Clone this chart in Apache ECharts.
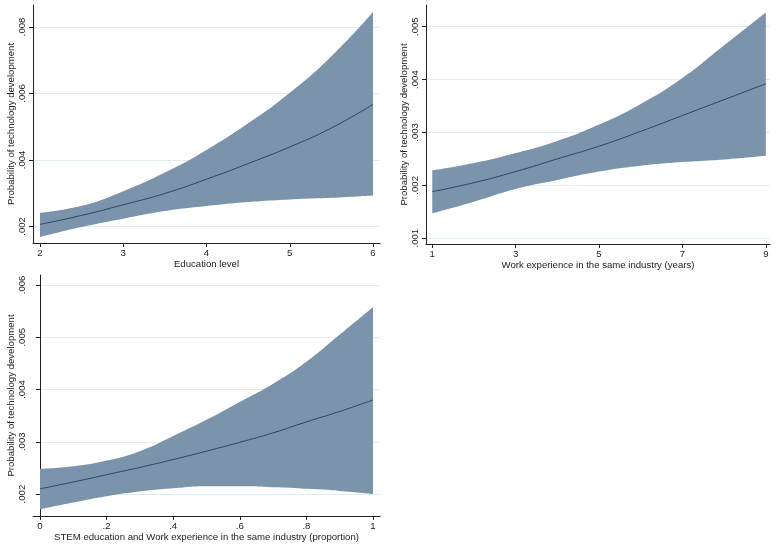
<!DOCTYPE html>
<html>
<head>
<meta charset="utf-8">
<script src="https://cdn.jsdelivr.net/npm/echarts@6/dist/echarts.min.js"></script>
<style>
  html, body { margin: 0; padding: 0; background: #fff; }
  #chart { width: 778px; height: 548px; }
</style>
</head>
<body>
<div id="chart"></div>
<script>
// panel 1: education level
const eduX = [2, 2.5, 3, 3.5, 4, 4.5, 5, 5.5, 6]
const eduMean = [0.00206, 0.00233, 0.00265, 0.00299, 0.00342, 0.00389, 0.00439, 0.00496, 0.00567]
const eduLow = [0.00168, 0.00198, 0.00223, 0.00246, 0.00261, 0.00273, 0.00281, 0.00286, 0.00293]
const eduHigh = [0.00241, 0.00262, 0.00306, 0.00362, 0.00430, 0.00510, 0.00602, 0.00712, 0.00845]
const eduXTicks = [2, 3, 4, 5, 6]
const eduYTicks = [0.002, 0.004, 0.006, 0.008]

// panel 2: work experience
const workX = [1, 2, 3, 4, 5, 6, 7, 8, 9]
const workMean = [0.00188, 0.00205, 0.00226, 0.00250, 0.00274, 0.00302, 0.00332, 0.00362, 0.00392]
const workLow = [0.00147, 0.00169, 0.00193, 0.00210, 0.00226, 0.00237, 0.00244, 0.00249, 0.00256]
const workHigh = [0.00228, 0.00242, 0.00261, 0.00284, 0.00315, 0.00354, 0.00403, 0.00465, 0.00527]
const workXTicks = [1, 3, 5, 7, 9]
const workYTicks = [0.001, 0.002, 0.003, 0.004, 0.005]

// panel 3: STEM + work experience proportion
const stemX = [0, 0.1, 0.2, 0.3, 0.4, 0.5, 0.6, 0.7, 0.8, 0.9, 1]
const stemMean = [0.00210, 0.00223, 0.00237, 0.00251, 0.00266, 0.00282, 0.00299, 0.00317, 0.00338, 0.00358, 0.00380]
const stemLow = [0.00171, 0.00184, 0.00196, 0.00205, 0.00211, 0.00215, 0.00215, 0.00213, 0.00210, 0.00206, 0.00200]
const stemHigh = [0.00248, 0.00253, 0.00264, 0.00282, 0.00311, 0.00342, 0.00376, 0.00411, 0.00453, 0.00505, 0.00558]
const stemXTicks = [0, 0.2, 0.4, 0.6, 0.8, 1]
const stemYTicks = [0.002, 0.003, 0.004, 0.005, 0.006]

const yName = 'Probability of technology development'
const bandColor = '#7b94ab'
const lineColor = '#26476a'
const gridColor = '#e2ebee'
const font = 'Liberation Sans, Arial, sans-serif'

const panels = [
  { x: eduX, mean: eduMean, low: eduLow, high: eduHigh, xTicks: eduXTicks, yTicks: eduYTicks,
    xName: 'Education level', xMin: 1.916, xMax: 6.084, yMin: 0.0015, yMax: 0.00866,
    grid: { left: 33, top: 5, width: 347, height: 238 } },
  { x: workX, mean: workMean, low: workLow, high: workHigh, xTicks: workXTicks, yTicks: workYTicks,
    xName: 'Work experience in the same industry (years)', xMin: 0.85, xMax: 9.1, yMin: 0.00089, yMax: 0.00541,
    grid: { left: 426, top: 5, width: 344, height: 239 } },
  { x: stemX, mean: stemMean, low: stemLow, high: stemHigh, xTicks: stemXTicks, yTicks: stemYTicks,
    xName: 'STEM education and Work experience in the same industry (proportion)', xMin: -0.021, xMax: 1.021, yMin: 0.00158, yMax: 0.00619,
    grid: { left: 33, top: 275, width: 347, height: 241 } }
]

const axisLine = { show: true, lineStyle: { color: '#222', width: 1 } }
const axisTick = { show: true, length: 4, lineStyle: { color: '#222' } }

const grids = [], xAxes = [], yAxes = [], series = []

panels.forEach((p, i) => {
  grids.push(Object.assign({ outerBoundsMode: 'none', containLabel: false }, p.grid))
  xAxes.push({
    type: 'value', gridIndex: i, min: p.xMin, max: p.xMax,
    name: p.xName, nameLocation: 'middle', nameGap: 15,
    nameTextStyle: { fontFamily: font, fontSize: 9.6, color: '#222' },
    axisLine: axisLine,
    axisTick: Object.assign({ customValues: p.xTicks }, axisTick),
    axisLabel: {
      customValues: p.xTicks, margin: 5, fontFamily: font, fontSize: 9.6, color: '#222',
      formatter: v => String(+v.toFixed(3)).replace(/^0\./, '.')
    },
    splitLine: { show: false }
  })
  yAxes.push({
    type: 'value', gridIndex: i, min: p.yMin, max: p.yMax,
    name: yName, nameLocation: 'middle', nameGap: 17,
    nameTextStyle: { fontFamily: font, fontSize: 9.6, color: '#222' },
    axisLine: axisLine,
    axisTick: Object.assign({ customValues: p.yTicks }, axisTick),
    axisLabel: {
      customValues: p.yTicks, rotate: 90, margin: 6, fontFamily: font, fontSize: 9.6, color: '#222',
      formatter: v => v.toFixed(3).replace(/^0/, '')
    },
    splitLine: { show: true, lineStyle: { color: gridColor, width: 1 } }
  })
  // y value first so the stack is applied on y, not x
  // lower bound (invisible)
  series.push({
    type: 'line', xAxisIndex: i, yAxisIndex: i, stack: 'ci' + i, smooth: true,
    symbol: 'none', silent: true, z: 1,
    encode: { x: 1, y: 0 },
    lineStyle: { width: 0 },
    data: p.x.map((x, k) => [p.low[k], x])
  })
  // confidence band
  series.push({
    type: 'line', xAxisIndex: i, yAxisIndex: i, stack: 'ci' + i, smooth: true,
    symbol: 'none', silent: true, z: 2,
    encode: { x: 1, y: 0 },
    lineStyle: { width: 0, opacity: 0 },
    areaStyle: { color: bandColor, opacity: 1 },
    data: p.x.map((x, k) => [p.high[k] - p.low[k], x])
  })
  // predicted line
  series.push({
    type: 'line', xAxisIndex: i, yAxisIndex: i, smooth: true,
    symbol: 'none', silent: true, z: 3,
    lineStyle: { color: lineColor, width: 1 },
    data: p.x.map((x, k) => [x, p.mean[k]])
  })
})

const chart = echarts.init(document.getElementById('chart'))
chart.setOption({
  backgroundColor: '#fff',
  animation: false,
  grid: grids,
  xAxis: xAxes,
  yAxis: yAxes,
  series: series
})
</script>
</body>
</html>
